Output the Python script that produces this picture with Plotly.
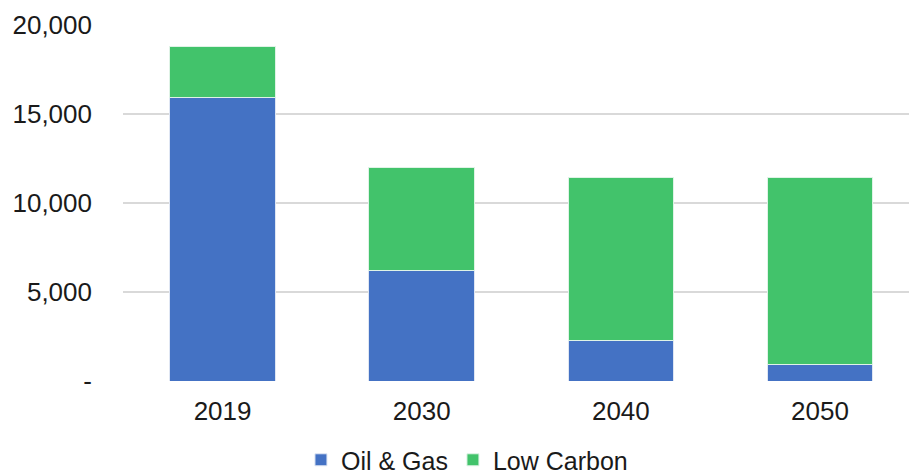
import plotly.graph_objects as go

years = ["2019", "2030", "2040", "2050"]
oil_gas = [15900, 6200, 2300, 900]
low_carbon = [2900, 5800, 9150, 10550]
y_ticks = [0, 5000, 10000, 15000, 20000]
y_tick_labels = ["-", "5,000", "10,000", "15,000", "20,000"]

font_family = "Liberation Sans, Arial, sans-serif"

fig = go.Figure()
fig.add_trace(go.Bar(
    x=years, y=oil_gas, name="Oil & Gas",
    marker=dict(color="#4472C4", line=dict(color="#dfe6f3", width=1)),
))
fig.add_trace(go.Bar(
    x=years, y=low_carbon, name="Low Carbon",
    marker=dict(color="#42C36B", line=dict(color="#dff3e6", width=1)),
))

fig.update_layout(
    barmode="stack",
    bargap=0.47,
    width=909, height=475,
    margin=dict(l=123, r=0, t=25, b=94, autoexpand=False),
    paper_bgcolor="white",
    plot_bgcolor="white",
    font=dict(family=font_family, size=26, color="#1a1a1a"),
    showlegend=True,
    legend=dict(
        orientation="h",
        x=0.4376, xanchor="center",
        y=-0.222, yanchor="middle",
        font=dict(size=25, color="#1a1a1a"),
        itemwidth=30,
        traceorder="normal",
    ),
    xaxis=dict(
        range=[-0.5, 3.447],
        showgrid=False,
        showline=False,
        ticks="",
        tickfont=dict(size=26),
        ticklabelstandoff=12,
    ),
    yaxis=dict(
        range=[0, 20000],
        tickvals=y_ticks,
        ticktext=y_tick_labels,
        showgrid=True,
        gridcolor="#d9d9d9",
        gridwidth=1.5,
        zeroline=False,
        showline=False,
        ticks="",
        tickfont=dict(size=26),
        ticklabelstandoff=30,
    ),
)

fig.write_html("out.html")
